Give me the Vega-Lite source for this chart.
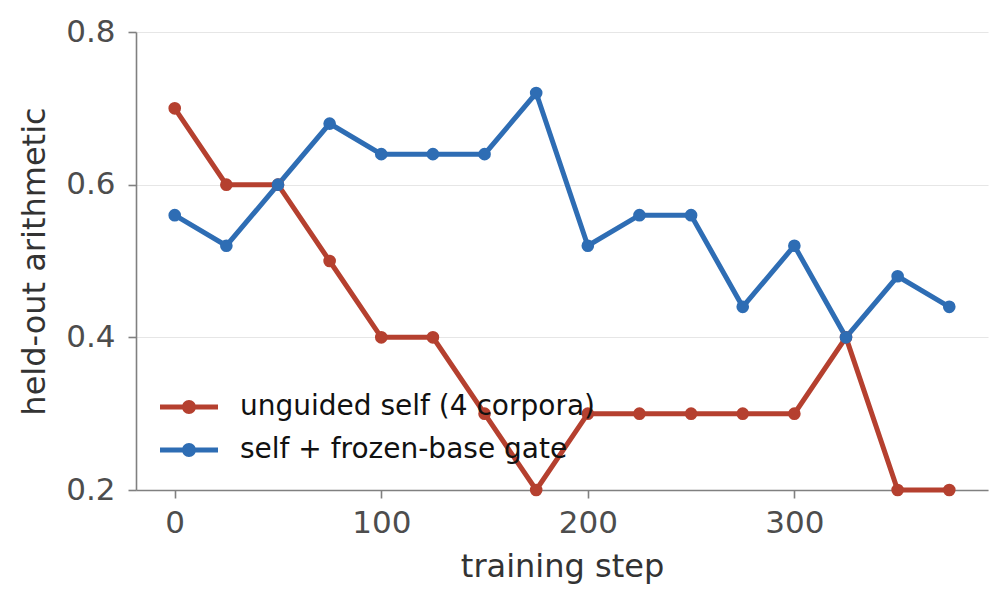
{
  "$schema": "https://vega.github.io/schema/vega-lite/v6.json",
  "autosize": "none",
  "width": 852,
  "height": 458,
  "padding": {"left": 136, "top": 32, "right": 20, "bottom": 117},
  "config": {
    "font": "DejaVu Sans",
    "view": {"stroke": null},
    "axis": {
      "labelFont": "DejaVu Sans",
      "titleFont": "DejaVu Sans",
      "labelFontSize": 31,
      "titleFontSize": 32,
      "titleFontWeight": "normal",
      "labelColor": "#4d4d4d",
      "titleColor": "#333333",
      "domainColor": "#808080",
      "tickColor": "#808080",
      "domainWidth": 1.6,
      "tickWidth": 1.6,
      "tickSize": 8,
      "gridColor": "#e6e6e6",
      "gridWidth": 1.2
    }
  },
  "data": {
    "values": [
      {"step": 0, "acc": 0.70, "run": "unguided self (4 corpora)"},
      {"step": 25, "acc": 0.60, "run": "unguided self (4 corpora)"},
      {"step": 50, "acc": 0.60, "run": "unguided self (4 corpora)"},
      {"step": 75, "acc": 0.50, "run": "unguided self (4 corpora)"},
      {"step": 100, "acc": 0.40, "run": "unguided self (4 corpora)"},
      {"step": 125, "acc": 0.40, "run": "unguided self (4 corpora)"},
      {"step": 150, "acc": 0.30, "run": "unguided self (4 corpora)"},
      {"step": 175, "acc": 0.20, "run": "unguided self (4 corpora)"},
      {"step": 200, "acc": 0.30, "run": "unguided self (4 corpora)"},
      {"step": 225, "acc": 0.30, "run": "unguided self (4 corpora)"},
      {"step": 250, "acc": 0.30, "run": "unguided self (4 corpora)"},
      {"step": 275, "acc": 0.30, "run": "unguided self (4 corpora)"},
      {"step": 300, "acc": 0.30, "run": "unguided self (4 corpora)"},
      {"step": 325, "acc": 0.40, "run": "unguided self (4 corpora)"},
      {"step": 350, "acc": 0.20, "run": "unguided self (4 corpora)"},
      {"step": 375, "acc": 0.20, "run": "unguided self (4 corpora)"},
      {"step": 0, "acc": 0.56, "run": "self + frozen-base gate"},
      {"step": 25, "acc": 0.52, "run": "self + frozen-base gate"},
      {"step": 50, "acc": 0.60, "run": "self + frozen-base gate"},
      {"step": 75, "acc": 0.68, "run": "self + frozen-base gate"},
      {"step": 100, "acc": 0.64, "run": "self + frozen-base gate"},
      {"step": 125, "acc": 0.64, "run": "self + frozen-base gate"},
      {"step": 150, "acc": 0.64, "run": "self + frozen-base gate"},
      {"step": 175, "acc": 0.72, "run": "self + frozen-base gate"},
      {"step": 200, "acc": 0.52, "run": "self + frozen-base gate"},
      {"step": 225, "acc": 0.56, "run": "self + frozen-base gate"},
      {"step": 250, "acc": 0.56, "run": "self + frozen-base gate"},
      {"step": 275, "acc": 0.44, "run": "self + frozen-base gate"},
      {"step": 300, "acc": 0.52, "run": "self + frozen-base gate"},
      {"step": 325, "acc": 0.40, "run": "self + frozen-base gate"},
      {"step": 350, "acc": 0.48, "run": "self + frozen-base gate"},
      {"step": 375, "acc": 0.44, "run": "self + frozen-base gate"}
    ]
  },
  "encoding": {
    "x": {
      "field": "step",
      "type": "quantitative",
      "title": "training step",
      "scale": {"domain": [-18.75, 393.75], "nice": false, "zero": false},
      "axis": {"values": [0, 100, 200, 300], "grid": false, "labelPadding": 10, "titlePadding": 13}
    },
    "y": {
      "field": "acc",
      "type": "quantitative",
      "title": "held-out arithmetic",
      "scale": {"domain": [0.2, 0.8], "nice": false},
      "axis": {"values": [0.2, 0.4, 0.6, 0.8], "format": ".1f", "labelPadding": 13, "titlePadding": 14}
    },
    "color": {
      "field": "run",
      "type": "nominal",
      "scale": {
        "domain": ["unguided self (4 corpora)", "self + frozen-base gate"],
        "range": ["#b5402f", "#2e6db4"]
      },
      "legend": {
        "title": null,
        "orient": "none",
        "legendX": 24,
        "legendY": 346,
        "labelFontSize": 28,
        "labelLimit": 0,
        "labelColor": "#111111",
        "labelFont": "DejaVu Sans",
        "symbolType": "M-1,-0.09L1,-0.09L1,0.09L-1,0.09Z M0.24,0A0.24,0.24 0 1,1 -0.24,0A0.24,0.24 0 1,1 0.24,0Z",
        "symbolSize": 3364,
        "symbolStrokeWidth": 0,
        "symbolOpacity": 1,
        "labelOffset": 22,
        "rowPadding": -15
      }
    }
  },
  "layer": [
    {"mark": {"type": "line", "strokeWidth": 5}},
    {"mark": {"type": "point", "filled": true, "size": 160, "opacity": 1}}
  ]
}
